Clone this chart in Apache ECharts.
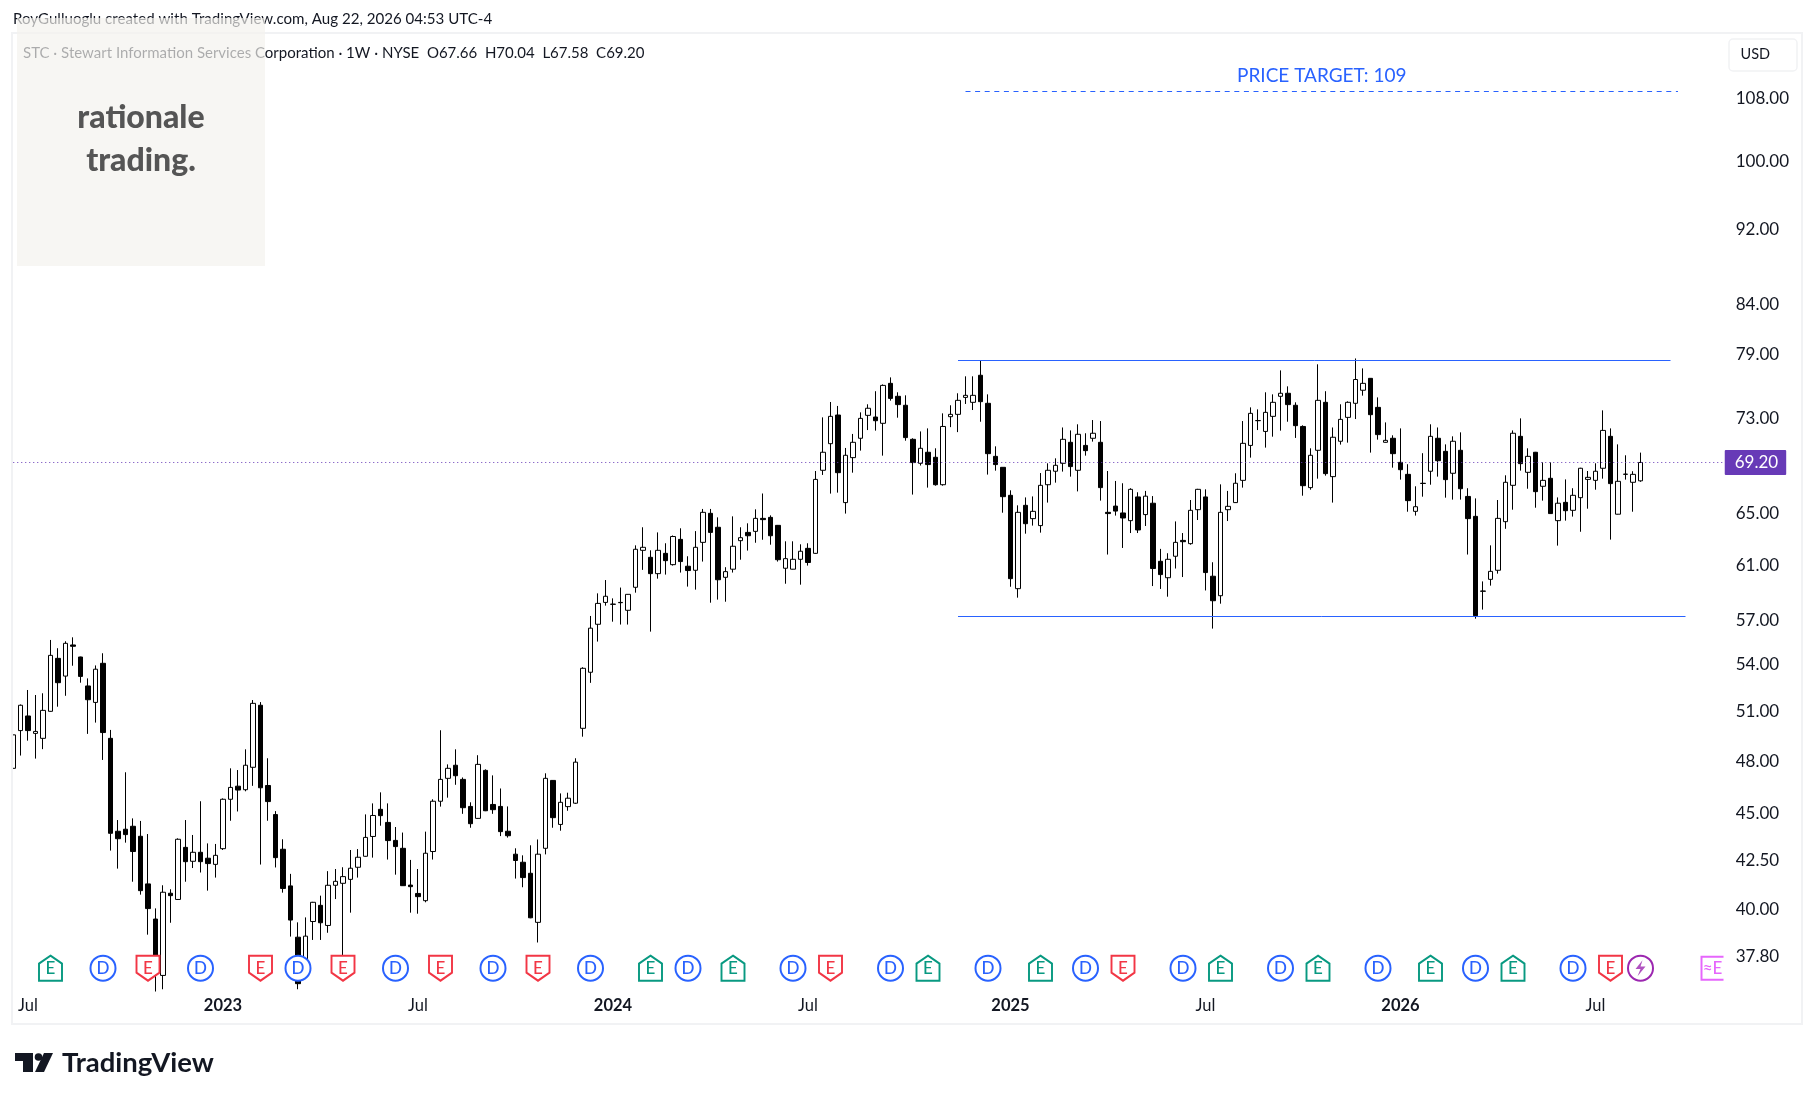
<!DOCTYPE html>
<html>
<head>
<meta charset="utf-8">
<style>html,body{margin:0;padding:0;background:#fff}#c{width:1814px;height:1100px}</style>
<script src="https://cdn.jsdelivr.net/npm/echarts@6/dist/echarts.min.js"></script>
</head>
<body>
<div id="c"></div>
<script>
const opens = [47.58,49.83,50.73,49.66,49.36,51.02,54.44,53.27,55.34,54.53,
52.63,51.58,54.11,49.36,44.05,44.16,44.32,43.78,41.30,39.56,
36.92,40.83,40.52,43.19,42.46,42.93,42.62,42.30,43.12,45.81,
46.55,46.35,47.64,51.40,46.59,44.96,43.09,41.20,38.69,37.17,
39.44,40.23,39.25,41.23,41.33,41.53,42.15,42.72,43.77,45.25,
44.53,43.56,43.14,41.24,40.82,40.46,42.97,45.70,47.00,47.76,
46.94,45.41,44.75,47.46,45.52,45.41,44.05,42.83,42.41,41.84,
39.40,43.14,46.88,44.42,45.40,45.59,49.97,53.52,56.76,58.30,
58.16,58.30,57.74,59.39,62.14,61.61,60.39,61.91,61.06,62.98,
60.94,60.64,62.75,65.02,63.92,60.12,60.72,62.88,63.52,63.60,
64.62,64.70,64.07,60.79,60.72,61.46,62.29,61.91,68.54,70.81,
73.34,65.88,69.61,71.28,73.31,73.16,72.60,76.24,75.04,74.22,
71.19,69.13,70.07,69.64,67.34,73.19,73.40,74.94,74.49,77.00,
74.40,69.72,68.79,66.47,59.29,65.66,64.60,64.05,67.34,68.46,
69.13,70.93,68.54,70.66,71.28,70.93,65.10,65.60,65.05,64.44,
66.34,64.92,65.83,61.31,60.09,61.69,62.90,62.65,65.31,66.34,
60.20,58.78,65.31,65.88,67.70,70.66,72.83,71.88,73.22,75.04,
75.32,74.22,72.32,67.10,70.24,74.49,68.01,71.02,73.13,74.40,
75.60,76.71,74.03,70.93,71.28,69.21,68.20,65.18,67.46,68.46,
71.28,70.15,68.29,70.24,66.38,64.78,59.10,59.97,60.64,64.36,
67.29,71.45,68.37,70.07,67.21,67.87,64.44,65.90,65.26,66.28,
67.78,67.70,68.71,71.45,64.95,68.20,67.54,67.66];
const closes = [49.57,51.40,49.83,49.78,51.08,54.64,52.84,55.45,55.25,53.25,
51.75,53.72,49.71,43.94,43.65,43.87,42.97,40.96,40.07,37.16,
40.88,40.71,43.62,42.44,42.93,42.44,42.34,42.77,45.81,46.48,
46.33,47.76,51.52,46.46,45.68,42.65,41.07,39.51,36.55,38.74,
40.38,39.38,41.23,41.43,41.67,42.10,42.67,43.72,44.91,44.90,
43.55,43.23,41.21,41.16,40.66,42.88,45.70,46.94,47.58,47.15,
45.34,44.46,47.81,45.17,45.23,44.03,43.81,42.50,41.62,39.62,
42.83,47.00,44.79,45.64,45.87,47.94,53.78,56.49,58.23,58.74,
58.18,58.28,58.88,62.22,62.37,60.39,62.14,61.36,63.20,61.29,
60.62,62.37,65.10,63.52,59.94,60.54,62.45,63.11,63.26,64.62,
64.52,63.26,61.43,61.51,61.46,62.07,61.22,67.78,70.07,73.22,
68.34,69.81,70.93,73.04,73.95,72.83,76.05,74.85,74.28,71.34,
69.19,70.41,69.02,67.34,72.32,73.40,74.67,75.13,75.13,74.55,
69.95,69.02,66.36,60.02,65.10,64.20,65.18,67.29,68.54,68.96,
71.19,68.85,71.63,70.21,71.72,67.10,65.00,65.20,64.65,66.96,
63.71,66.40,60.77,60.32,61.46,62.75,62.80,65.26,66.96,60.47,
58.42,65.10,65.58,67.46,70.84,73.49,72.85,73.58,74.49,75.32,
74.28,72.39,67.26,69.81,74.67,68.26,71.37,72.95,74.49,76.60,
76.24,73.37,71.60,71.10,69.95,68.59,66.04,65.55,67.44,71.45,
69.35,67.76,71.02,67.01,64.60,57.36,59.12,60.56,64.62,67.54,
71.72,69.10,69.72,66.77,67.70,65.00,65.83,65.23,66.47,68.71,
67.95,68.46,71.97,67.43,67.62,68.22,68.20,69.20];
const highs = [50.28,51.45,52.37,52.05,52.16,55.68,55.12,55.59,55.86,54.55,
53.12,53.97,54.78,49.87,44.66,47.35,44.75,44.61,43.90,40.08,
41.23,41.03,43.67,44.66,43.85,45.70,43.40,43.37,45.86,47.58,
47.48,48.70,51.73,51.60,48.17,45.15,43.62,41.81,39.40,39.64,
40.40,40.71,41.95,42.06,42.15,43.05,43.10,44.97,45.58,46.20,
45.58,44.28,43.98,42.53,42.06,44.03,45.81,49.85,47.81,48.70,
47.05,45.64,48.35,47.52,47.17,46.42,45.41,43.14,42.77,43.30,
43.61,47.29,46.90,46.14,46.18,48.17,53.85,57.34,58.95,59.92,
58.59,59.37,58.90,62.52,63.92,62.14,63.52,62.68,63.28,63.84,
61.69,63.62,65.37,65.37,64.70,60.87,64.78,63.92,64.23,65.34,
66.62,64.86,64.10,62.83,62.83,62.60,62.68,68.48,73.13,74.52,
74.16,70.44,71.66,73.58,74.31,75.51,76.14,76.80,75.41,75.13,
71.28,71.88,72.15,70.41,73.49,74.22,75.32,76.90,76.90,78.42,
75.22,70.58,68.80,66.88,65.66,66.30,66.38,68.31,69.13,69.55,
72.23,71.97,72.51,71.72,72.89,72.80,68.48,67.65,67.46,67.05,
66.72,66.83,66.41,62.25,61.92,64.38,63.47,66.09,67.00,66.96,
61.24,67.37,66.83,68.29,72.80,74.03,73.85,75.41,75.22,77.46,
75.96,74.49,72.42,70.41,78.04,75.51,72.23,74.31,74.58,78.60,
77.65,76.73,74.94,72.68,71.54,72.15,69.05,67.21,69.99,72.51,
72.23,70.75,71.45,71.80,67.05,66.22,59.82,62.52,66.09,68.12,
71.97,73.04,70.41,70.10,69.21,69.21,66.30,67.78,67.05,68.75,
68.48,69.13,73.76,72.15,70.75,69.81,68.46,70.04];
const lows = [46.12,48.33,49.22,48.15,48.71,51.00,51.31,52.00,53.95,52.84,
49.63,50.32,48.07,43.02,42.08,43.44,41.41,40.76,38.81,36.20,
36.30,39.38,40.50,41.41,42.11,41.88,40.96,41.62,43.05,44.62,
45.13,46.26,46.57,42.29,44.62,42.14,40.86,38.72,36.30,36.95,
38.56,38.56,38.90,40.54,37.85,39.87,41.62,42.70,42.65,44.35,
42.55,41.77,41.20,39.87,39.82,40.38,42.55,45.40,45.90,46.63,
45.00,44.24,44.73,45.15,45.00,43.79,43.71,41.57,41.13,39.60,
38.44,42.82,44.24,44.08,45.17,45.55,49.46,52.83,55.57,58.07,
56.94,56.74,56.74,59.00,60.67,56.25,60.02,60.32,60.99,60.47,
59.44,59.22,61.29,58.28,58.50,58.35,60.47,61.43,62.12,62.72,
62.95,62.57,61.29,59.65,60.70,59.58,60.99,61.88,68.15,66.61,
66.69,65.00,68.34,70.21,72.00,71.95,69.78,74.64,73.10,71.07,
66.53,68.94,67.10,67.26,67.26,72.26,71.82,74.34,73.79,72.74,
68.18,68.51,65.07,59.43,58.64,63.42,64.05,63.50,65.88,67.51,
68.43,68.01,66.79,69.78,70.99,66.04,61.82,64.84,62.32,63.47,
63.47,64.02,59.48,59.27,58.71,60.77,60.14,62.57,64.49,59.16,
56.46,58.21,64.41,65.85,67.10,69.61,72.00,70.47,71.42,71.95,
72.74,71.31,66.44,66.93,67.84,68.09,65.88,70.73,70.90,72.98,
75.10,70.04,71.16,70.90,68.76,67.76,65.15,64.84,66.36,67.34,
68.01,66.28,66.12,66.12,61.82,57.15,57.79,59.51,60.39,63.80,
65.31,68.51,67.01,65.47,66.04,64.98,62.50,64.44,64.76,63.57,
65.39,66.93,67.84,62.96,64.93,67.76,65.15,67.58];

const priceTicks = [108,100,92,84,79,73,65,61,57,54,51,48,45,42.5,40,37.8];
const firstWeek = Date.UTC(2022,5,20);
const weekCount = 229;
const categories = Array.from({length:weekCount},(_,i)=>new Date(firstWeek+i*7*864e5).toISOString().slice(0,10));
const timeTicks = {'2022-07-04':'Jul','2023-01-02':'2023','2023-07-03':'Jul','2024-01-01':'2024','2024-07-01':'Jul','2025-01-06':'2025','2025-07-07':'Jul','2026-01-05':'2026','2026-07-06':'Jul'};

const lastClose = 69.20;
const rangeTop = 78.4, rangeBottom = 57.32, targetPrice = 109.05;
const rangeStart = categories[126], rangeTopEnd = categories[221], rangeBottomEnd = categories[223];
const targetStart = categories[127], targetEnd = categories[222];

const eventPrice = 37.25;
const earningsBeat = [5,85,96,122,137,161,174,189,200];
const earningsMiss = [18,33,44,57,70,109,148,213];
const dividends = [12,25,38,51,64,77,90,104,117,130,143,156,169,182,195,208];
const newsEvents = [217];
const upcomingEarnings = [227];

const FONT = 'Lato';
const BLUE = '#2962ff', GREEN = '#089981', RED = '#f23645', PURPLE = '#9c27b0', MAGENTA = '#e040fb', TAG = '#673ab7', INK = '#131722', FRAME = '#f1f2f4';

function eventSeries(name, idx, symbol, size, color, text, extra){
  return Object.assign({
    name, type:'scatter', z:6, silent:true, symbol, symbolSize:size, clip:false,
    data: idx.map(i=>[categories[i], eventPrice]),
    itemStyle:{color:'#fff', borderColor:color, borderWidth:2, opacity:1},
    label:{show:true, position:'inside', formatter:text, color, fontFamily:FONT, fontSize:17, fontWeight:500}
  }, extra||{});
}
const houseUp = 'path://M12,0 L24,8 L24,25 L0,25 L0,8 Z';
const houseDown = 'path://M0,0 L24,0 L24,17 L12,25 L0,17 Z';
const bracket = 'path://M24,0 L3,0 L3,24 L24,24';
const bolt = 'path://M9,0 L2,11 L7,11 L4,20 L12,8 L7,8 Z';

const chart = echarts.init(document.getElementById('c'));
chart.setOption({
  animation:false,
  backgroundColor:'#fff',
  title:[
    {text:'RoyGulluoglu created with TradingView.com, Aug 22, 2026 04:53 UTC-4', left:13, top:12, padding:0, textStyle:{fontFamily:FONT,fontSize:15.1,fontWeight:400,color:INK}},
    {text:'STC · Stewart Information Services Corporation · 1W · NYSE  O67.66  H70.04  L67.58  C69.20', left:23, top:45.5, padding:0, textStyle:{fontFamily:FONT,fontSize:15,fontWeight:400,color:INK}}
  ],
  grid:{left:9.25, top:34, width:1717.5, height:951, containLabel:false},
  xAxis:{
    type:'category', data:categories, boundaryGap:true,
    axisLine:{show:false}, axisTick:{show:false}, splitLine:{show:false},
    axisLabel:{
      show:true, margin:12, fontFamily:FONT, fontSize:16.5, color:INK, hideOverlap:false,
      interval:(i,v)=>timeTicks[v]!==undefined,
      formatter:(v)=>{const t=timeTicks[v]; return t==='Jul'?t:`{y|${t}}`;},
      rich:{y:{fontFamily:FONT,fontSize:16.5,fontWeight:700,color:INK}}
    }
  },
  yAxis:{
    type:'log', logBase:10, min:36.49, max:116.95, position:'right',
    axisLine:{show:false}, axisTick:{show:false}, splitLine:{show:false}, minorTick:{show:false},
    axisLabel:{
      customValues:priceTicks, margin:9, align:'left', fontFamily:FONT, fontSize:17, color:INK,
      formatter:(v)=>Number(v).toFixed(2)
    }
  },
  series:[
    {
      name:'STC', type:'candlestick', barWidth:5, clip:true, z:3, silent:true,
      data:opens.map((o,i)=>[o,closes[i],lows[i],highs[i]]),
      itemStyle:{color:'#ffffff', color0:'#000000', borderColor:'#000000', borderColor0:'#000000', borderWidth:1},
      markLine:{
        silent:true, symbol:'none', animation:false, precision:2,
        label:{show:false},
        data:[
          [{coord:[rangeStart,rangeTop], lineStyle:{color:BLUE,width:1,type:'solid'}},{coord:[rangeTopEnd,rangeTop]}],
          [{coord:[rangeStart,rangeBottom], lineStyle:{color:BLUE,width:1,type:'solid'}},{coord:[rangeBottomEnd,rangeBottom]}],
          [{coord:[targetStart,targetPrice], lineStyle:{color:BLUE,width:1,type:[5,4.6]},
            label:{show:true, position:'middle', formatter:'PRICE TARGET: 109', color:BLUE, fontFamily:FONT, fontSize:19, distance:6}},
           {coord:[targetEnd,targetPrice]}],
          {yAxis:lastClose, lineStyle:{color:TAG,width:1,type:[1,3]},
           label:{show:true, position:'end', formatter:'69.20', distance:-2, color:'#fff', backgroundColor:TAG, padding:[4,8,4,10], fontFamily:FONT, fontSize:17, borderRadius:1}}
        ]
      }
    },
    eventSeries('Earnings beat', earningsBeat, houseUp, [23,25], GREEN, 'E'),
    eventSeries('Earnings miss', earningsMiss, houseDown, [23,25], RED, 'E'),
    eventSeries('Dividends', dividends, 'circle', 25, BLUE, 'D'),
    eventSeries('News', newsEvents, 'circle', 25, PURPLE, ''),
    eventSeries('News bolt', newsEvents, bolt, [10,16], PURPLE, '', {z:7, itemStyle:{color:PURPLE,borderWidth:0}, label:{show:false}}),
    eventSeries('Next earnings', upcomingEarnings, bracket, [22,23], MAGENTA, '≈E', {symbolOffset:[-3,0], itemStyle:{color:'rgba(255,255,255,0)',borderColor:MAGENTA,borderWidth:2}})
  ],
  graphic:[
    {type:'rect', z:50, silent:true, shape:{x:0,y:34,width:12,height:951}, style:{fill:'#fff'}},
    {type:'rect', z:51, silent:true, shape:{x:12,y:33,width:1790,height:991}, style:{fill:'none',stroke:FRAME,lineWidth:2}},
    {type:'rect', z:52, silent:true, shape:{x:1729,y:39,width:68,height:32,r:4}, style:{fill:'#fff',stroke:FRAME,lineWidth:1.5}},
    {type:'text', z:53, silent:true, style:{x:1740.5,y:54,text:'USD',fill:INK,font:'14.5px '+FONT,textVerticalAlign:'middle'}},
    {type:'rect', z:60, silent:true, shape:{x:17,y:18,width:248,height:248}, style:{fill:'#f3f2ee',opacity:0.68}},
    {type:'text', z:61, silent:true, style:{x:141,y:118,text:'rationale',fill:'#555555',font:'900 32px '+FONT,textAlign:'center',textVerticalAlign:'middle'}},
    {type:'text', z:61, silent:true, style:{x:141,y:161,text:'trading.',fill:'#555555',font:'900 32px '+FONT,textAlign:'center',textVerticalAlign:'middle'}},
    {type:'polygon', z:61, silent:true, shape:{points:[[15,1053],[33,1053],[33,1072],[23,1072],[23,1061],[15,1061]]}, style:{fill:INK}},
    {type:'circle', z:61, silent:true, shape:{cx:38.5,cy:1057,r:3.8}, style:{fill:INK}},
    {type:'polygon', z:61, silent:true, shape:{points:[[44,1053],[53,1053],[44,1072],[35,1072]]}, style:{fill:INK}},
    {type:'text', z:61, silent:true, style:{x:62,y:1063,text:'TradingView',fill:INK,font:'700 27.5px '+FONT,textVerticalAlign:'middle'}}
  ]
});
</script>
</body>
</html>
